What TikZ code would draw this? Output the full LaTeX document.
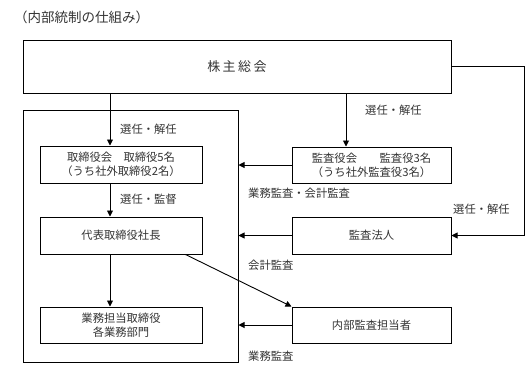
\documentclass[tikz,border=0pt]{standalone}
\usepackage{fontspec}
\setmainfont{Noto Sans CJK JP}
\usetikzlibrary{arrows.meta}

\tikzset{
  box/.style={draw, line width=1pt, minimum width=162pt, minimum height=37pt,
    inner sep=0pt, align=center, font=\fontsize{11.3}{14}\selectfont, text=black!80},
  lbl/.style={anchor=west, inner sep=0pt, font=\fontsize{11.3}{14}\selectfont, text=black!80},
  arr/.style={line width=0.9pt, -{Triangle[length=6pt,width=6pt]}},
  ln/.style={line width=0.9pt},
}

\begin{document}
\begin{tikzpicture}[x=1pt, y=-1pt]
  \useasboundingbox (0,0) rectangle (530,368);

  % Title
  \node[anchor=west, inner sep=0pt, font=\fontsize{13.5}{16}\selectfont, text=black!80] (title) at (14,17) {（内部統制の仕組み）};

  % Boxes
  \node[box, minimum width=428pt, minimum height=53pt, font=\fontsize{13}{16}\selectfont] (soukai) at (237,66.5)
    {株\hspace{2.5pt}主\hspace{2.5pt}総\hspace{2.5pt}会};
  \node[draw, line width=1pt, minimum width=215pt, minimum height=252pt, inner sep=0pt] (company) at (130.5,236) {};
  \node[box] (tori) at (121,164.5) {取締役会　取締役5名\\（うち社外取締役2名）};
  \node[box] (daihyo) at (121,235.5) {代表取締役社長};
  \node[box, minimum height=36pt] (gyomu) at (121,325) {業務担当取締役\\各業務部門};
  \node[box, minimum width=159pt, minimum height=36pt] (kansa) at (371.5,165) {監査役会　　監査役3名\\（うち社外監査役3名）};
  \node[box, minimum width=159pt] (houjin) at (371.5,235.5) {監査法人};
  \node[box, minimum width=159pt, minimum height=36pt] (naibu) at (371.5,325) {内部監査担当者};

  % Helper coordinates
  \coordinate (xl) at (110,0);
  \coordinate (xr) at (346,0);

  % Arrows
  \draw[arr] (soukai.south -| xl) -- (tori.north -| xl);
  \draw[arr] (tori.south -| xl) -- (daihyo.north -| xl);
  \draw[arr] (daihyo.south -| xl) -- (gyomu.north -| xl);
  \draw[arr] (soukai.south -| xr) -- (kansa.north -| xr);
  \draw[arr] (soukai.east) -- ++(73,0) |- (houjin.east);
  \draw[arr] (kansa.west) -- (kansa.west -| company.east);
  \draw[arr] (houjin.west) -- (houjin.west -| company.east);
  \draw[arr] (naibu.west) -- (naibu.west -| company.east);
  \draw[arr] ([xshift=-17pt]daihyo.south east) -- (naibu.north west);

  % Labels
  \node[lbl] (l1) at (120,129) {選任・解任};
  \node[lbl] (l2) at (120,199) {選任・監督};
  \node[lbl] (l3) at (365,110) {選任・解任};
  \node[lbl] (l4) at (453,209) {選任・解任};
  \node[lbl] (l5) at (248,193) {業務監査・会計監査};
  \node[lbl] (l6) at (248,265) {会計監査};
  \node[lbl] (l7) at (248,356) {業務監査};
\end{tikzpicture}
\end{document}
